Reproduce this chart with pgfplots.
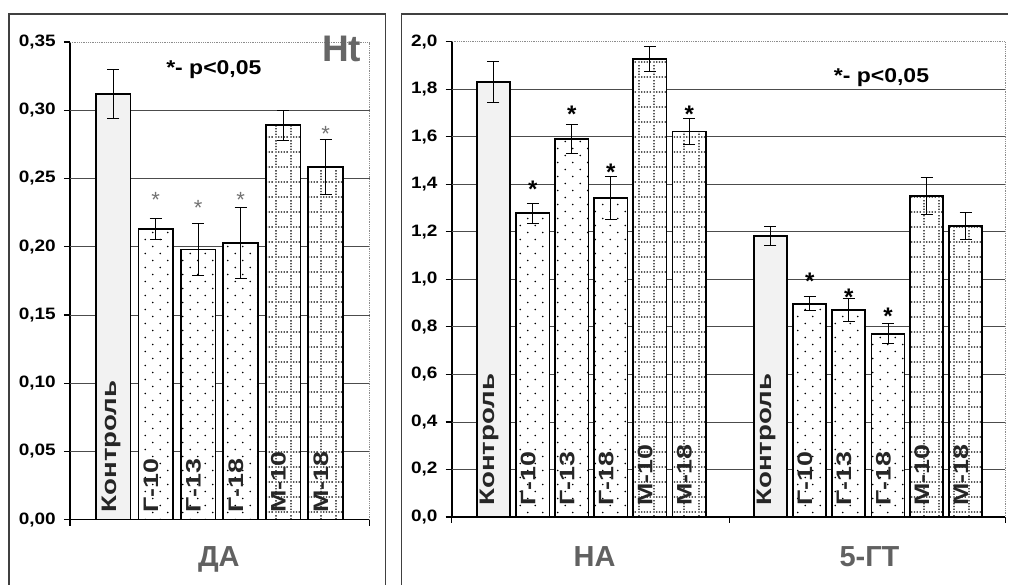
\documentclass[border=0pt]{standalone}
\usepackage{fontspec}
\setmainfont{Liberation Sans}
\newfontfamily\wide[FakeStretch=1.15]{Liberation Sans}
\newfontfamily\kwide[FakeStretch=1.32]{Liberation Sans}
\newfontfamily\lwide[FakeStretch=1.28]{Liberation Sans}
\usepackage{pgfplots}
\usepackage{pgfplotstable}
\pgfplotsset{compat=1.18}
\usetikzlibrary{patterns}

% staggered sparse dots
\pgfdeclarepatternformonly{gdots}{\pgfqpoint{0pt}{0pt}}{\pgfqpoint{15pt}{14pt}}{\pgfqpoint{15pt}{14pt}}{%
  \pgfpathcircle{\pgfqpoint{3.75pt}{3.5pt}}{0.9pt}%
  \pgfpathcircle{\pgfqpoint{11.25pt}{10.5pt}}{0.9pt}%
  \pgfusepath{fill}}
% dotted grid
\pgfdeclarepatternformonly{mgrid}{\pgfqpoint{0pt}{0pt}}{\pgfqpoint{14.5pt}{14.5pt}}{\pgfqpoint{14.5pt}{14.5pt}}{%
  \pgfpathrectangle{\pgfqpoint{0.3pt}{0.3pt}}{\pgfqpoint{1.3pt}{1.3pt}}%
  \pgfpathrectangle{\pgfqpoint{3.2pt}{0.3pt}}{\pgfqpoint{1.3pt}{1.3pt}}%
  \pgfpathrectangle{\pgfqpoint{6.1pt}{0.3pt}}{\pgfqpoint{1.3pt}{1.3pt}}%
  \pgfpathrectangle{\pgfqpoint{9.0pt}{0.3pt}}{\pgfqpoint{1.3pt}{1.3pt}}%
  \pgfpathrectangle{\pgfqpoint{11.9pt}{0.3pt}}{\pgfqpoint{1.3pt}{1.3pt}}%
  \pgfpathrectangle{\pgfqpoint{0.3pt}{3.2pt}}{\pgfqpoint{1.3pt}{1.3pt}}%
  \pgfpathrectangle{\pgfqpoint{0.3pt}{6.1pt}}{\pgfqpoint{1.3pt}{1.3pt}}%
  \pgfpathrectangle{\pgfqpoint{0.3pt}{9.0pt}}{\pgfqpoint{1.3pt}{1.3pt}}%
  \pgfpathrectangle{\pgfqpoint{0.3pt}{11.9pt}}{\pgfqpoint{1.3pt}{1.3pt}}%
  \pgfusepath{fill}}

\pgfplotstableread{
x y e
1.02 0.312 0.018
}\daK
\pgfplotstableread{
x y e
2.02 0.213 0.008
3.02 0.198 0.019
4.02 0.2025 0.026
}\daG
\pgfplotstableread{
x y e
5.02 0.289 0.011
6.02 0.2585 0.020
}\daM

\pgfplotstableread{
x y e
1.07 1.830 0.087
8.17 1.183 0.040
}\rK
\pgfplotstableread{
x y e
2.08 1.278 0.043
3.08 1.590 0.061
4.08 1.341 0.091
9.18 0.897 0.030
10.18 0.872 0.049
11.19 0.771 0.043
}\rG
\pgfplotstableread{
x y e
5.08 1.926 0.052
6.09 1.622 0.053
12.18 1.351 0.077
13.18 1.225 0.058
}\rM

\pgfplotsset{
  panel/.style={
    scale only axis,
    ymin=0,
    axis lines=left,
    axis line style={-, line width=1.6pt, black},
    tick align=outside,
    major tick length=6pt,
    tick style={line width=1.2pt, black},
    xticklabels={},
    yticklabel style={inner sep=0pt, font=\wide\bfseries\fontsize{16.5}{16.5}\selectfont,
      /pgf/number format/fixed, /pgf/number format/fixed zerofill,
      /pgf/number format/use comma, /pgf/number format/assume math mode=true},
    yticklabel shift=8pt,
    grid style={black!70, line width=0.8pt},
    extra y tick labels={},
    extra y tick style={grid=major, major tick length=0pt, tick style={draw=none}},
    clip=false,
  },
  barK/.style={ybar, bar width=#1, bar shift=0pt, draw=black, line width=1.6pt, fill=black!5,
    error bars/.cd, y dir=both, y explicit,
    error bar style={line width=1pt, black},
    error mark options={rotate=90, mark size=6pt, line width=1pt, black}},
  barG/.style={ybar, bar width=#1, bar shift=0pt, draw=black, line width=1.6pt, fill=white,
    postaction={pattern=gdots, pattern color=black},
    error bars/.cd, y dir=both, y explicit,
    error bar style={line width=1pt, black},
    error mark options={rotate=90, mark size=6pt, line width=1pt, black}},
  barM/.style={ybar, bar width=#1, bar shift=0pt, draw=black, line width=1.6pt, fill=white,
    postaction={pattern=mgrid, pattern color=black},
    error bars/.cd, y dir=both, y explicit,
    error bar style={line width=1pt, black},
    error mark options={rotate=90, mark size=6pt, line width=1pt, black}},
}
\tikzset{
  blab/.style={rotate=90, anchor=base west, inner sep=0pt, text=black!85,
    font=\lwide\bfseries\fontsize{21}{21}\selectfont},
  klab/.style={rotate=90, anchor=base west, inner sep=0pt, text=black!85,
    font=\kwide\bfseries\fontsize{21}{21}\selectfont},
  lstar/.style={anchor=north, inner sep=0pt, text=black!55, font=\fontsize{22}{22}\selectfont},
  rstar/.style={anchor=north, inner sep=0pt, text=black, font=\bfseries\fontsize{24}{24}\selectfont},
}

\begin{document}
\begin{tikzpicture}[x=1pt,y=1pt]
\path (0,0) rectangle (1009,585);
% frames
\draw[black!75, line width=1.2pt] (9,0) -- (9,571) -- (386,571) -- (386,0);
\draw[black!75, line width=1.2pt] (402,0) -- (402,571) -- (1009,571);

% ---------------- left panel ----------------
\begin{axis}[panel,
  at={(70pt,65pt)}, anchor=south west,
  width=300pt, height=478pt,
  xmin=0, xmax=7.06, ymax=0.35,
  xtick={0,7.06},
  ytick={0,0.05,0.1,0.15,0.2,0.25,0.3,0.35},
  yticklabel style={/pgf/number format/precision=2},
  extra y ticks={0.05,0.1,0.15,0.2,0.25,0.3},
]
\draw[black!45, densely dotted, line width=0.8pt] (rel axis cs:0,1) -- (rel axis cs:1,1) -- (rel axis cs:1,0);
\addplot[barK=0.82] table[x=x, y=y, y error=e] {\daK};
\addplot[barG=0.82] table[x=x, y=y, y error=e] {\daG};
\addplot[barM=0.82] table[x=x, y=y, y error=e] {\daM};
\node[klab] at ([xshift=3pt,yshift=7pt]axis cs:1.02,0) {Контроль};
\node[blab] at ([xshift=2.5pt,yshift=7pt]axis cs:2.02,0) {Г-10};
\node[blab] at ([xshift=2.5pt,yshift=7pt]axis cs:3.02,0) {Г-13};
\node[blab] at ([xshift=2.5pt,yshift=7pt]axis cs:4.02,0) {Г-18};
\node[blab] at ([xshift=2.5pt,yshift=7pt]axis cs:5.02,0) {М-10};
\node[blab] at ([xshift=2.5pt,yshift=7pt]axis cs:6.02,0) {М-18};
\node[lstar] at (axis cs:2.02,0.240) {*};
\node[lstar] at (axis cs:3.02,0.234) {*};
\node[lstar] at (axis cs:4.02,0.240) {*};
\node[lstar] at (axis cs:6.02,0.288) {*};
\end{axis}

% ---------------- right panel ----------------
\begin{axis}[panel,
  at={(452pt,67.7pt)}, anchor=south west,
  width=554pt, height=475.6pt,
  xmin=0, xmax=14.2, ymax=2.0,
  xtick={0,7.13,14.2},
  ytick={0,0.2,0.4,0.6,0.8,1.0,1.2,1.4,1.6,1.8,2.0},
  yticklabel style={/pgf/number format/precision=1},
  extra y ticks={0.2,0.4,0.6,0.8,1.0,1.2,1.4,1.6,1.8},
]
\draw[black!45, densely dotted, line width=0.8pt] (rel axis cs:0,1) -- (rel axis cs:1,1) -- (rel axis cs:1,0);
\addplot[barK=0.85] table[x=x, y=y, y error=e] {\rK};
\addplot[barG=0.85] table[x=x, y=y, y error=e] {\rG};
\addplot[barM=0.85] table[x=x, y=y, y error=e] {\rM};
\node[klab] at ([xshift=1pt,yshift=11pt]axis cs:1.07,0) {Контроль};
\node[klab] at ([xshift=1pt,yshift=11pt]axis cs:8.17,0) {Контроль};
\node[blab] at ([xshift=2.5pt,yshift=11pt]axis cs:2.08,0) {Г-10};
\node[blab] at ([xshift=2.5pt,yshift=11pt]axis cs:3.08,0) {Г-13};
\node[blab] at ([xshift=2.5pt,yshift=11pt]axis cs:4.08,0) {Г-18};
\node[blab] at ([xshift=2.5pt,yshift=11pt]axis cs:5.08,0) {М-10};
\node[blab] at ([xshift=2.5pt,yshift=11pt]axis cs:6.09,0) {М-18};
\node[blab] at ([xshift=2.5pt,yshift=11pt]axis cs:9.18,0) {Г-10};
\node[blab] at ([xshift=2.5pt,yshift=11pt]axis cs:10.18,0) {Г-13};
\node[blab] at ([xshift=2.5pt,yshift=11pt]axis cs:11.19,0) {Г-18};
\node[blab] at ([xshift=2.5pt,yshift=11pt]axis cs:12.18,0) {М-10};
\node[blab] at ([xshift=2.5pt,yshift=11pt]axis cs:13.18,0) {М-18};
\node[rstar] at (axis cs:2.08,1.415) {*};
\node[rstar] at (axis cs:3.08,1.730) {*};
\node[rstar] at (axis cs:4.08,1.487) {*};
\node[rstar] at (axis cs:6.09,1.730) {*};
\node[rstar] at (axis cs:9.18,1.029) {*};
\node[rstar] at (axis cs:10.18,0.962) {*};
\node[rstar] at (axis cs:11.19,0.881) {*};
\end{axis}

% texts
\node[anchor=base, inner sep=0pt, font=\wide\bfseries\fontsize{20}{20}\selectfont] at (214,510) {*- p<0,05};
\node[anchor=base, inner sep=0pt, font=\wide\bfseries\fontsize{20}{20}\selectfont] at (882,502) {*- p<0,05};
\node[anchor=base west, inner sep=0pt, text=black!60, font=\bfseries\fontsize{37}{37}\selectfont] at (322,523) {Ht};
\node[anchor=base, inner sep=0pt, text=black!62, font=\bfseries\fontsize{29}{29}\selectfont] at (219,18) {ДА};
\node[anchor=base, inner sep=0pt, text=black!62, font=\bfseries\fontsize{29}{29}\selectfont] at (595,18) {НА};
\node[anchor=base, inner sep=0pt, text=black!62, font=\bfseries\fontsize{29}{29}\selectfont] at (870,18) {5-ГТ};
\end{tikzpicture}
\end{document}
